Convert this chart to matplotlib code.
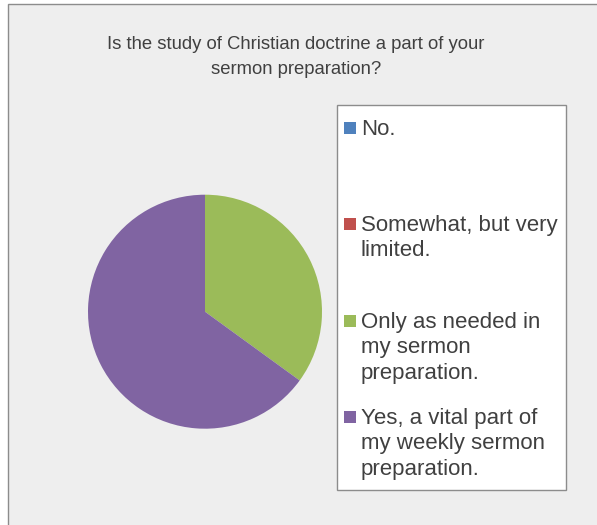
import matplotlib.pyplot as plt
from matplotlib.patches import Rectangle

# data
labels = ['No.', 'Somewhat, but very\nlimited.', 'Only as needed in\nmy sermon\npreparation.',
          'Yes, a vital part of\nmy weekly sermon\npreparation.']
values = [0, 0, 35, 65]
colors = ['#4F81BD', '#C0504D', '#9BBB59', '#8064A2']
title = 'Is the study of Christian doctrine a part of your\nsermon preparation?'

W, H = 597, 525
fig = plt.figure(figsize=(W / 100, H / 100), dpi=100)
fig.patch.set_facecolor('white')
plt.rcParams['font.family'] = ['Liberation Sans', 'DejaVu Sans']

def fx(px):
    return px / W

def fy(py):
    return 1 - py / H

# chart area background
fig.patches.append(Rectangle((fx(8), fy(530)), fx(600), 530 / H - 9 / H + 0.01,
                             transform=fig.transFigure, facecolor='#EEEEEE',
                             edgecolor='#8C8C8C', linewidth=1, zorder=-2))

# title
fig.text(fx(296), fy(57), title, ha='center', va='center', fontsize=13.3,
         color='#404040', linespacing=1.6)

# pie
cx, cy, r = 205, 311.7, 117
ax = fig.add_axes([fx(cx - r), fy(cy + r), 2 * r / W, 2 * r / H])
ax.set_zorder(1)
ax.pie(values, colors=colors, startangle=90, counterclock=False,
       wedgeprops=dict(linewidth=0))
ax.set_xlim(-1, 1)
ax.set_ylim(-1, 1)
ax.set_aspect('equal')
ax.axis('off')

# legend box
fig.patches.append(Rectangle((fx(337), fy(490)), fx(566 - 337), (490 - 105) / H,
                             transform=fig.transFigure, facecolor='white',
                             edgecolor='#8C8C8C', linewidth=1, zorder=-1))
entry_y = [128, 224, 321, 417]
for lab, col, y in zip(labels, colors, entry_y):
    fig.patches.append(Rectangle((fx(344), fy(y + 6)), 12 / W, 12 / H,
                                 transform=fig.transFigure, facecolor=col,
                                 edgecolor='none', zorder=2))
    fig.text(fx(361), fy(y - 9), lab, ha='left', va='top', fontsize=16,
             color='#404040', linespacing=1.28, zorder=3)

fig.savefig('out.png', dpi=100)
